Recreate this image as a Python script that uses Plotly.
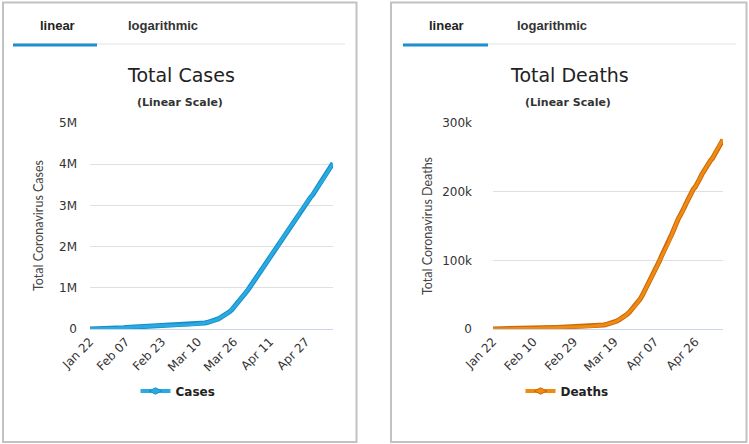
"""Total coronavirus cases and deaths, linear scale, two side-by-side panels."""
import pandas as pd
import plotly.graph_objects as go

W, H = 749, 444

# Daily categories Jan 22 .. May 09 (2020)
DATES = list(pd.date_range("2020-01-22", "2020-05-09").strftime("%b %d"))

CASES = [
    580, 845, 1317, 2015, 2800, 4581, 6058, 7813, 9823, 11950,
    14553, 17391, 20630, 24545, 28266, 31439, 34876, 37552, 40553, 43099,
    45134, 59287, 64438, 67100, 69197, 71329, 73332, 75184, 75700, 76677,
    77673, 78651, 79205, 80087, 80828, 81820, 83112, 84615, 86604, 88585,
    90443, 93016, 95314, 98425, 102050, 106099, 109991, 114381, 118948, 126214,
    134576, 145483, 156653, 169593, 182490, 198238, 218822, 244933, 275597, 305036,
    337459, 378830, 418051, 467653, 529591, 593291, 660706, 720117, 782365, 857487,
    932605, 1013157, 1095917, 1176060, 1249754, 1321481, 1396476, 1479804, 1565278, 1657526,
    1735650, 1834721, 1904838, 1976191, 2056054, 2152437, 2240190, 2317758, 2401378, 2472259,
    2549123, 2624070, 2708885, 2811193, 2896746, 2971475, 3041764, 3116398, 3193886, 3256846,
    3343777, 3427584, 3506729, 3583055, 3662691, 3755341, 3845718, 3938064, 4024009,
]

DEATHS = [
    17, 25, 41, 56, 80, 106, 132, 170, 213, 259,
    304, 362, 426, 492, 565, 638, 724, 813, 910, 1018,
    1115, 1261, 1383, 1526, 1669, 1775, 1873, 2009, 2126, 2247,
    2360, 2460, 2618, 2699, 2763, 2800, 2858, 2923, 2977, 3050,
    3117, 3202, 3285, 3387, 3494, 3599, 3827, 4025, 4296, 4628,
    4981, 5428, 5833, 6520, 7160, 7959, 8823, 10030, 11378, 13018,
    14709, 16494, 18890, 21563, 24389, 27962, 31426, 34732, 38491, 43295,
    48297, 54255, 60239, 66475, 71766, 77161, 84566, 91021, 98110, 105228,
    111394, 117126, 122708, 130048, 138305, 145591, 154295, 160493, 165830, 170950,
    178206, 184910, 191723, 197943, 203210, 206995, 211726, 218196, 224560, 230155,
    235729, 240889, 244729, 248383, 254379, 260342, 265969, 271028, 275487,
]

CASES_YTICKS = [0, 1e6, 2e6, 3e6, 4e6, 5e6]
CASES_YTEXT = ["0", "1M", "2M", "3M", "4M", "5M"]
DEATHS_YTICKS = [0, 100000, 200000, 300000]
DEATHS_YTEXT = ["0", "100k", "200k", "300k"]

FONT = "Liberation Sans, Arial, sans-serif"
TICK_FONT = "DejaVu Sans, Verdana, sans-serif"


def px_x(v):
    return v / W


def px_y(v):
    return 1 - v / H


fig = go.Figure()

panels = [
    dict(ax="", data=CASES, name="Cases", color="#2aaae2", edge="#168fc6",
         step=16, ytv=CASES_YTICKS, ytt=CASES_YTEXT, yr=[0, 5e6],
         xd=[90, 333], standoff=12, legend="legend"),
    dict(ax="2", data=DEATHS, name="Deaths", color="#f08a12", edge="#c8690a",
         step=19, ytv=DEATHS_YTICKS, ytt=DEATHS_YTEXT, yr=[0, 300000],
         xd=[493, 723], standoff=20, legend="legend2"),
]

for p in panels:
    xa, ya = "x" + p["ax"], "y" + p["ax"]
    # darker outline then lighter core, like the original thick stroke
    fig.add_trace(go.Scatter(x=DATES, y=p["data"], mode="lines", xaxis=xa, yaxis=ya,
                             line=dict(color=p["edge"], width=5), showlegend=False,
                             hoverinfo="skip"))
    fig.add_trace(go.Scatter(x=DATES, y=p["data"], mode="lines", xaxis=xa, yaxis=ya,
                             line=dict(color=p["color"], width=3), name=p["name"],
                             showlegend=False))
    # legend-only entry
    fig.add_trace(go.Scatter(x=[None], y=[None], mode="lines+markers", xaxis=xa, yaxis=ya,
                             line=dict(color=p["color"], width=4),
                             marker=dict(color=p["color"], size=9, symbol="diamond-wide",
                                         line=dict(color=p["edge"], width=1)),
                             name=p["name"], legend=p["legend"]))

    fig.update_layout(**{
        "xaxis" + p["ax"]: dict(
            domain=[px_x(p["xd"][0]), px_x(p["xd"][1])], anchor=ya,
            type="category", range=[0, len(DATES) - 1],
            tickvals=DATES[::p["step"]], tickangle=-45,
            tickfont=dict(family=TICK_FONT, size=12, color="#333"),
            showgrid=False, showline=True, linecolor="#ccd6eb", linewidth=1,
            ticks="", zeroline=False, fixedrange=True, automargin=False,
        ),
        "yaxis" + p["ax"]: dict(
            domain=[px_y(329), px_y(123)], anchor=xa, range=p["yr"],
            tickvals=p["ytv"], ticktext=p["ytt"],
            tickfont=dict(family=TICK_FONT, size=12, color="#333"),
            ticklabelstandoff=p["standoff"],
            showgrid=True, gridcolor="#e0e0e0", gridwidth=1,
            zeroline=False, showline=False, ticks="", automargin=False,
        ),
    })

# panel frames
shapes = []
for x0, x1 in [(3, 356.5), (391, 746.5)]:
    shapes.append(dict(type="rect", xref="paper", yref="paper",
                       x0=px_x(x0), x1=px_x(x1), y0=px_y(442), y1=px_y(2.5),
                       line=dict(color="#c2c2c2", width=2)))

# tab strip: gray base line with blue underline on the active tab
for base0, base1, act0, act1 in [(13, 345, 13, 97), (403, 736, 403, 488)]:
    shapes.append(dict(type="line", xref="paper", yref="paper",
                       x0=px_x(base0), x1=px_x(base1), y0=px_y(44), y1=px_y(44),
                       line=dict(color="#e2e2e2", width=1)))
    shapes.append(dict(type="line", xref="paper", yref="paper",
                       x0=px_x(act0), x1=px_x(act1), y0=px_y(45), y1=px_y(45),
                       line=dict(color="#1d8fcf", width=3)))

annotations = []


def add_text(text, x, y, size, color="#222", family=FONT, angle=0):
    annotations.append(dict(text=text, x=px_x(x), y=px_y(y), xref="paper", yref="paper",
                            showarrow=False, textangle=angle, xanchor="center",
                            yanchor="middle", font=dict(family=family, size=size, color=color)))


add_text("<b>linear</b>", 57, 26, 13, "#222")
add_text("<b>logarithmic</b>", 163, 26, 13, "#333")
add_text("<b>linear</b>", 446, 26, 13, "#222")
add_text("<b>logarithmic</b>", 552, 26, 13, "#333")

add_text("Total Cases", 181, 75, 19, "#222", TICK_FONT)
add_text("Total Deaths", 569, 75, 19, "#222", TICK_FONT)
add_text("<b>(Linear Scale)</b>", 180, 102, 11, "#333", TICK_FONT)
add_text("<b>(Linear Scale)</b>", 568, 102, 11, "#333", TICK_FONT)

add_text("Total Coronavirus Cases", 38, 226, 12.5, "#444", "Lato, sans-serif", -90)
add_text("Total Coronavirus Deaths", 427, 226, 12.5, "#444", "Lato, sans-serif", -90)

legend_style = dict(orientation="h", xanchor="center", yanchor="middle",
                    font=dict(family=TICK_FONT, size=12, color="#222", weight="bold"),
                    bgcolor="rgba(0,0,0,0)", itemwidth=30)

fig.update_layout(
    width=W, height=H,
    margin=dict(l=0, r=0, t=0, b=0, autoexpand=False),
    paper_bgcolor="white", plot_bgcolor="white",
    shapes=shapes, annotations=annotations,
    legend=dict(x=px_x(178), y=px_y(391), **legend_style),
    legend2=dict(x=px_x(567), y=px_y(391), **legend_style),
)

# drop the default body margin so the 749x444 figure fills the window exactly
fig.write_html("out.html", config={"displayModeBar": False},
               post_script="document.body.style.margin='0';")
